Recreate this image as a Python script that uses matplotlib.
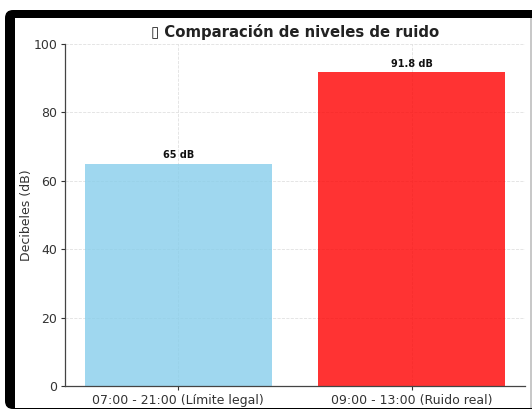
import matplotlib

matplotlib.use("Agg")
import matplotlib.pyplot as plt
from matplotlib.patches import FancyBboxPatch, Rectangle

# Niveles de ruido: limite legal vs medicion real.
periodos = ["07:00 - 21:00 (Límite legal)", "09:00 - 13:00 (Ruido real)"]
decibeles = [65, 91.8]
etiquetas = ["65 dB", "91.8 dB"]
colores = ["skyblue", "red"]

W, H = 532, 413
fig = plt.figure(figsize=(W / 100, H / 100), dpi=100)

# fondo: marco negro tipo captura de pantalla (arriba, izquierda y abajo)
bg = fig.add_axes([0, 0, 1, 1], zorder=-1)
bg.set_xlim(0, W)
bg.set_ylim(H, 0)
bg.axis("off")
bg.add_patch(FancyBboxPatch((5, 10), 560, 399, boxstyle="round,pad=0,rounding_size=8",
                            facecolor="black", edgecolor="none"))
bg.add_patch(Rectangle((15, 18), 515, 390, facecolor="white", edgecolor="none"))
bg.add_patch(Rectangle((530, 18), 1.5, 390, facecolor="#c8c8c8", edgecolor="none"))

ax = fig.add_axes([65 / W, (H - 386) / H, 460 / W, 342 / H], zorder=1)
ax.set_facecolor("none")
bars = ax.bar(periodos, decibeles, color=colores, alpha=0.8, width=0.8, zorder=2)
for bar, txt in zip(bars, etiquetas):
    ax.text(bar.get_x() + bar.get_width() / 2, bar.get_height() + 1, txt,
            ha="center", va="bottom", fontsize=7, fontweight="bold",
            color="#111111", zorder=3)

ax.set_ylim(0, 100)
ax.set_xlim(-0.485, 1.485)
ax.set_yticks([0, 20, 40, 60, 80, 100])
ax.set_ylabel("Decibeles (dB)", fontsize=9, color="#333333")
ax.yaxis.set_label_coords(-0.07, 0.5)
ax.set_title("\u25af Comparación de niveles de ruido", fontsize=10.7,
             fontweight="bold", color="#222222", pad=5)
ax.tick_params(labelsize=9, colors="#333333", length=3, width=0.8, pad=2.5)
ax.grid(True, linestyle="--", linewidth=0.6, color="#e0e0e0", zorder=0)
ax.spines["top"].set_visible(False)
ax.spines["right"].set_visible(False)
for s in ("left", "bottom"):
    ax.spines[s].set_color("#444444")
    ax.spines[s].set_linewidth(0.9)

fig.savefig("out.png", dpi=100)
